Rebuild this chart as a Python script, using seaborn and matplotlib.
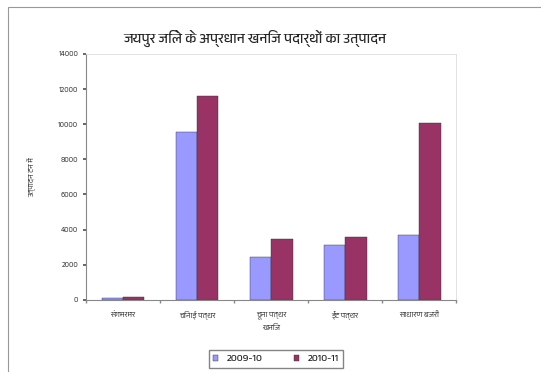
import glob
import matplotlib
matplotlib.use("Agg")
import matplotlib.pyplot as plt
from matplotlib import font_manager
from matplotlib.patches import Rectangle
import seaborn as sns
import pandas as pd

# data
minerals = ["संगमरमर", "चिनाई पत्थर", "चूना पत्थर", "ईंट पत्थर", "साधारण बजरी"]
prod_2009 = [100, 9550, 2450, 3100, 3700]
prod_2010 = [150, 11600, 3450, 3550, 10050]
years = ["2009-10", "2010-11"]

df = pd.DataFrame({
    "खनिज": minerals * 2,
    "उत्पादन": prod_2009 + prod_2010,
    "वर्ष": [years[0]] * 5 + [years[1]] * 5,
})

sns.set_theme(style="white")

# look for any font with devanagari
families = []
for f in glob.glob("/usr/share/fonts/**/*.[ot]tf", recursive=True):
    if "Devanagari" in f or "Mangal" in f or "Lohit" in f:
        font_manager.fontManager.addfont(f)
        families.append(font_manager.FontProperties(fname=f).get_name())
plt.rcParams["font.family"] = families[:1] + ["Noto Sans", "DejaVu Sans"]

fig = plt.figure(figsize=(5.41, 3.72), dpi=100)
ax = fig.add_axes([0.159, 0.194, 0.684, 0.661])

sns.barplot(data=df, x="खनिज", y="उत्पादन", hue="वर्ष",
            palette=["#9999FF", "#993366"], saturation=1, width=0.58, gap=0,
            edgecolor="#333333", linewidth=0.3, ax=ax)

ax.set_ylim(0, 14000)
ax.set_yticks(range(0, 14001, 2000))
ax.set_xlim(-0.5, 4.5)
ax.tick_params(axis="both", labelsize=5.5, colors="#555555", length=2)
ax.tick_params(axis="y", left=True, direction="out")
ax.set_xticks([i + 0.5 for i in range(-1, 5)], minor=True)
ax.tick_params(axis="x", which="major", bottom=False, pad=6)
ax.tick_params(axis="x", which="minor", bottom=True, length=2, color="#888888")
for s in ["top", "right"]:
    ax.spines[s].set_color("#dddddd")
    ax.spines[s].set_linewidth(0.6)
for s in ["left", "bottom"]:
    ax.spines[s].set_color("#888888")
    ax.spines[s].set_linewidth(0.8)

ax.set_xlabel("खनिज", fontsize=5.5, color="#555555", labelpad=3)
ax.set_ylabel("उत्पादन टन में", fontsize=5.5, color="#555555", labelpad=16)
ax.set_title("जयपुर जिले के अप्रधान खनिज पदार्थों का उत्पादन",
             fontsize=10, fontweight="bold", pad=8, x=0.457)

ax.legend(loc="center", bbox_to_anchor=(0.51, 0.035), bbox_transform=fig.transFigure,
          ncol=2, fontsize=7.5, frameon=True, fancybox=False, edgecolor="#666666",
          handlelength=0.5, handleheight=0.5, columnspacing=3, borderpad=0.4)

fig.patches.append(Rectangle((8 / 541, -0.05), 1.2, 1 - 7 / 372 + 0.05,
                             transform=fig.transFigure, fill=False,
                             edgecolor="#999999", linewidth=0.8))

fig.savefig("out.png", dpi=100)
